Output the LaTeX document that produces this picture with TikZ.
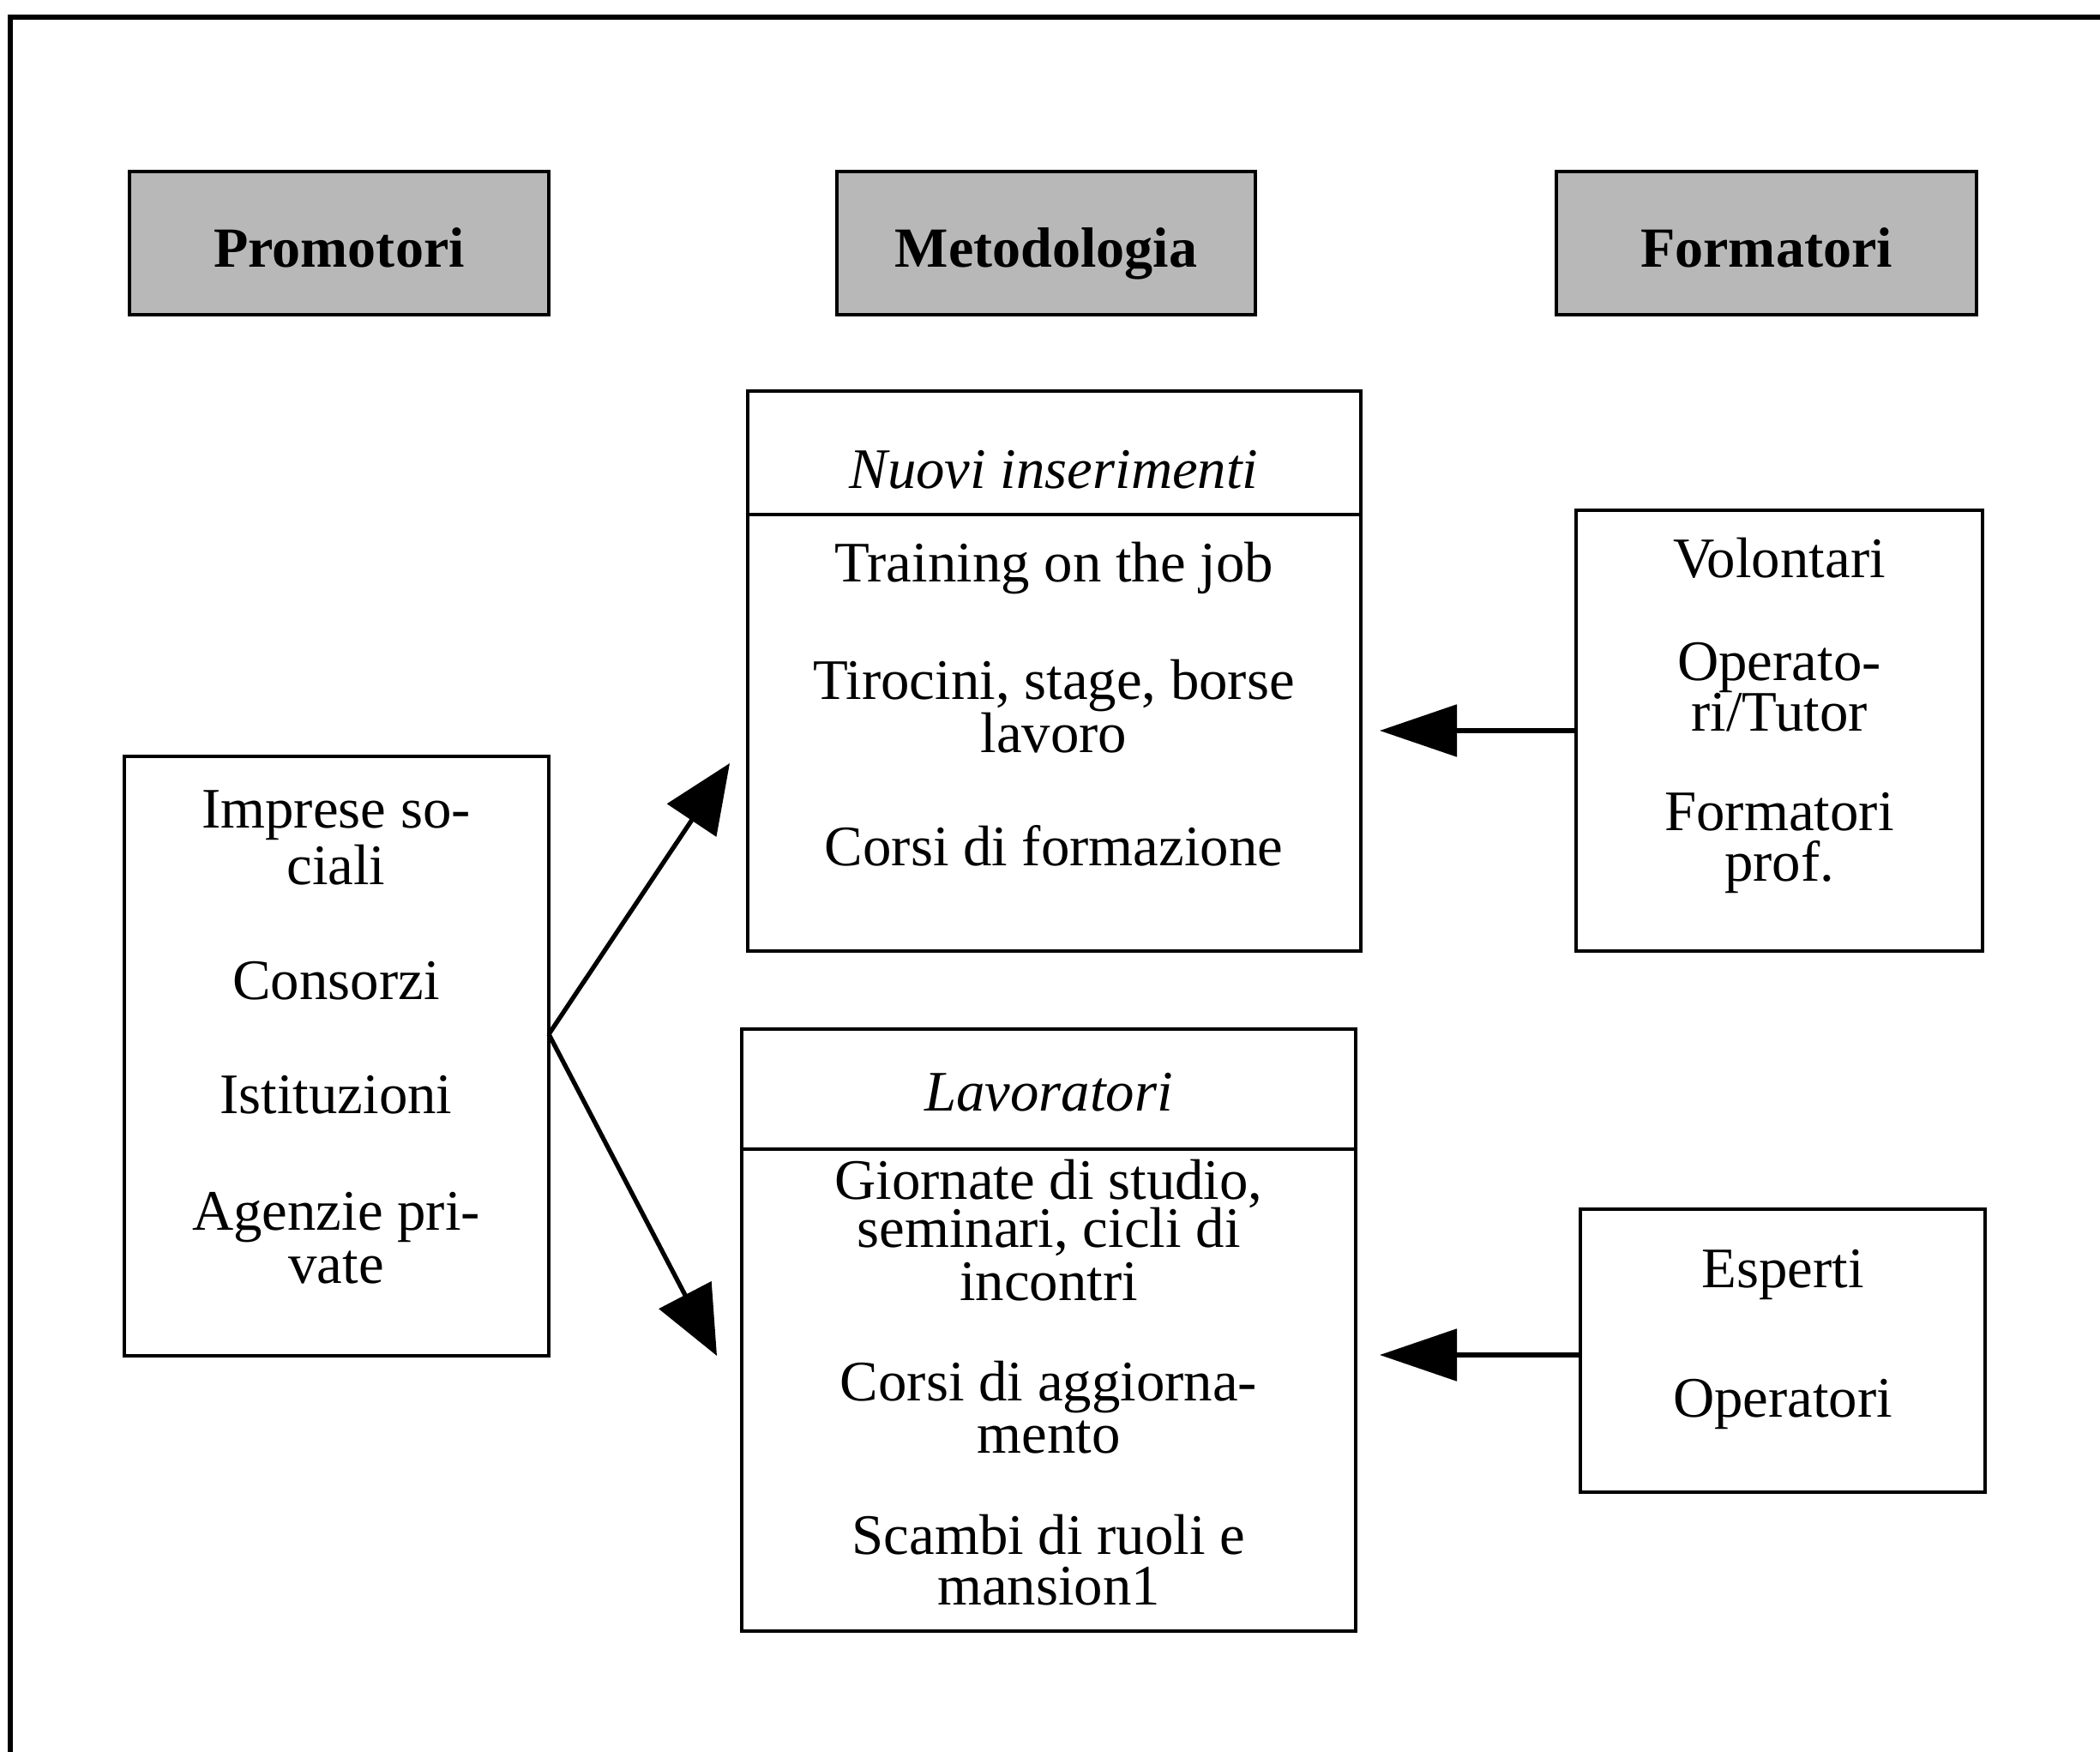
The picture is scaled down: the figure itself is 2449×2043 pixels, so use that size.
\documentclass[tikz,border=0pt]{standalone}
\usepackage{fontspec}
\setmainfont{Liberation Serif}
\usetikzlibrary{arrows.meta}
\begin{document}
\begin{tikzpicture}[x=0.01cm,y=-0.01cm,
  frameline/.style={line width=1.7pt},
  hdrbox/.style={draw,line width=1.3pt,fill=black!28,minimum height=1.67cm,inner sep=0pt},
  plainbox/.style={draw,line width=1.2pt,inner sep=0pt},
  divline/.style={line width=1.2pt},
  txt/.style={anchor=base,inner sep=0pt,font=\fontsize{19pt}{18pt}\selectfont},
  ttl/.style={txt,font=\fontsize{19pt}{18pt}\selectfont\itshape},
  hdr/.style={anchor=base,inner sep=0pt,font=\fontsize{18.8pt}{18pt}\selectfont\bfseries},
  diagarrow/.style={line width=1.5pt,-{Triangle[length=0.8cm,width=0.68cm]}},
  horarrow/.style={line width=1.5pt,-{Triangle[length=0.9cm,width=0.6cm]}}]
\useasboundingbox (0,0) rectangle (2449,2043);
% outer frame (open at right and bottom)
\draw[frameline] (12,2043) -- (12,20) -- (2449,20);
% header boxes
\node[hdrbox,minimum width=4.89cm] (hP) at (395.5,283.5) {};
\node[hdrbox,minimum width=4.88cm] (hM) at (1220,283.5) {};
\node[hdrbox,minimum width=4.90cm] (hF) at (2060,283.5) {};
\node[hdr] (hPt) at (395.5,312) {Promotori};
\node[hdr] (hMt) at (1220,312) {Metodologia};
\node[hdr] (hFt) at (2060,312) {Formatori};
% main boxes
\node[plainbox,minimum width=4.95cm,minimum height=6.99cm] (bProm) at (392.5,1231.5) {};
\node[plainbox,minimum width=7.15cm,minimum height=6.53cm] (bNuovi) at (1229.5,782.5) {};
\node[plainbox,minimum width=7.16cm,minimum height=7.02cm] (bLav) at (1223,1551) {};
\node[plainbox,minimum width=4.74cm,minimum height=5.14cm] (bFormU) at (2075,852) {};
\node[plainbox,minimum width=4.72cm,minimum height=3.30cm] (bFormL) at (2079,1575) {};
\draw[divline] (bNuovi.west |- 0,600) -- (bNuovi.east |- 0,600);
\draw[divline] (bLav.west |- 0,1340) -- (bLav.east |- 0,1340);
% Promotori text
\node[txt] (p1) at (392,965) {Imprese so-};
\node[txt] (p2) at (392,1031) {ciali};
\node[txt] (p3) at (392,1165) {Consorzi};
\node[txt] (p4) at (392,1298) {Istituzioni};
\node[txt] (p5) at (392,1434) {Agenzie pri-};
\node[txt] (p6) at (392,1496) {vate};
% Nuovi inserimenti text
\node[ttl] (n0) at (1229,570) {Nuovi inserimenti};
\node[txt] (n1) at (1229,679) {Training on the job};
\node[txt] (n2) at (1229,815) {Tirocini, stage, borse};
\node[txt] (n3) at (1229,877) {lavoro};
\node[txt] (n4) at (1229,1009) {Corsi di formazione};
% Lavoratori text
\node[ttl] (l0) at (1223,1295) {Lavoratori};
\node[txt] (l1) at (1223,1398) {Giornate di studio,};
\node[txt] (l2) at (1223,1454) {seminari, cicli di};
\node[txt] (l3) at (1223,1516) {incontri};
\node[txt] (l4) at (1223,1633) {Corsi di aggiorna-};
\node[txt] (l5) at (1223,1694) {mento};
\node[txt] (l6) at (1223,1812) {Scambi di ruoli e};
\node[txt] (l7) at (1223,1871) {mansion1};
% Formatori upper text
\node[txt] (f1) at (2075,673) {Volontari};
\node[txt] (f2) at (2075,793) {Operato-};
\node[txt] (f3) at (2075,852) {ri/Tutor};
\node[txt] (f4) at (2075,968) {Formatori};
\node[txt] (f5) at (2075,1027) {prof.};
% Formatori lower text
\node[txt] (g1) at (2079,1501) {Esperti};
\node[txt] (g2) at (2079,1652) {Operatori};
% connectors
\coordinate (src) at (640,1206);
\coordinate (tipA) at (851,890);
\coordinate (tipB) at (836,1581);
\coordinate (tipC) at (1609,852);
\coordinate (tipD) at (1609,1580);
\draw[diagarrow] (src) -- (tipA);
\draw[diagarrow] (src) -- (tipB);
\draw[horarrow] (bFormU.west) -- (tipC);
\draw[horarrow] (bFormL.west |- tipD) -- (tipD);
\end{tikzpicture}
\end{document}
